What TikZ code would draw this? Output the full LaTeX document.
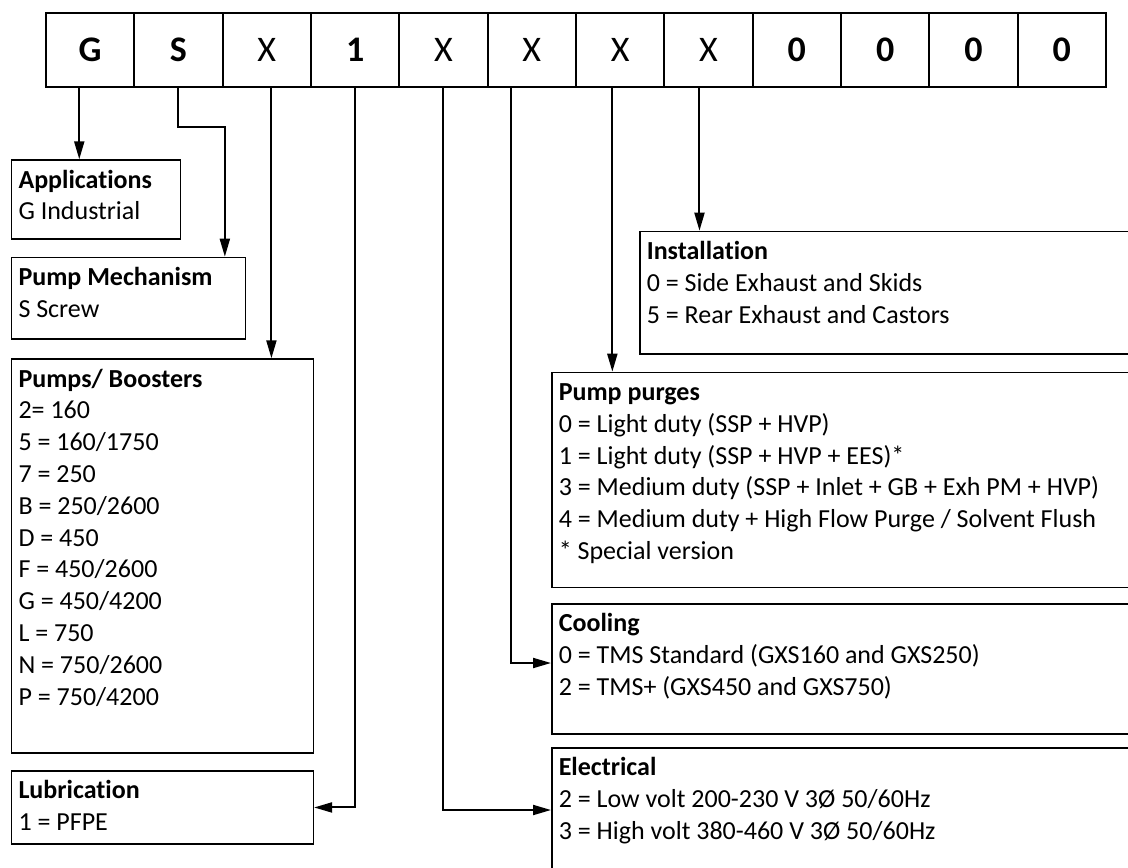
\documentclass[tikz,border=0pt]{standalone}
\usepackage{fontspec}
\setmainfont{Carlito}[Ligatures=NoCommon]
\usepackage{tikz}
\usetikzlibrary{positioning,arrows.meta}

\begin{document}
\begin{tikzpicture}[x=0.5pt,y=-0.5pt,
  cell/.style={draw,line width=1pt,minimum width=44.17pt,minimum height=37pt,inner sep=0pt,
    text height=11.6pt,text depth=0pt,font=\fontsize{18}{20}\selectfont},
  entry/.style={draw,line width=0.8pt,anchor=north west,align=left,inner xsep=3.5pt,inner ysep=0pt,
    text height=14pt,font=\fontsize{13}{15.9}\selectfont,
    execute at begin node={\spaceskip=\fontdimen2\font\relax}},
  flow/.style={-{Triangle[length=9pt,width=5pt]},line width=1pt},
]
\useasboundingbox (0,0) rectangle (1128,867);
\clip (0,0) rectangle (1128,867);
\foreach \ch [count=\i] in {\textbf{G},\textbf{S},X,\textbf{1},X,X,X,X,\textbf{0},\textbf{0},\textbf{0},\textbf{0}}
  \node[cell] (c\i) at ({46+88.33*(\i-0.5)},49.7) {\ch};
\node[entry,text width=77.45pt,text depth=25.5pt] (app) at (10.7,159.3) {\textbf{Applications}\\G Industrial};
\node[entry,text width=109.95pt,text depth=26.65pt] (mech) at (10.7,256.7) {\textbf{Pump Mechanism}\\S Screw};
\node[entry,text width=143.9pt,text depth=182.85pt] (pumps) at (10.7,358.3) {\textbf{Pumps/ Boosters}\\2= 160\\5 = 160/1750\\7 = 250\\B = 250/2600\\D = 450\\F = 450/2600\\G = 450/4200\\L = 750\\N = 750/2600\\P = 750/4200};
\node[entry,text width=143.9pt,text depth=22.65pt] (lub) at (10.7,770) {\textbf{Lubrication}\\1 = PFPE};
\node[entry,text width=280pt,text depth=47.15pt] (inst) at (639,230.7) {\textbf{Installation}\\0 = Side Exhaust and Skids\\5 = Rear Exhaust and Castors};
\node[entry,text width=312.5pt,text depth=93.5pt] (purge) at (551,371.7) {\textbf{Pump purges}\\0 = Light duty (SSP + HVP)\\1 = Light duty (SSP + HVP + EES)*\\3 = Medium duty (SSP + Inlet + GB + Exh PM + HVP)\\4 = Medium duty + High Flow Purge / Solvent Flush\\{}* Special version};
\node[entry,text width=312.5pt,text depth=51pt] (cool) at (551,603) {\textbf{Cooling}\\0 = TMS Standard (GXS160 and GXS250)\\2 = TMS+ (GXS450 and GXS750)};
\node[entry,text width=312.5pt,text depth=56pt] (elec) at (551,747) {\textbf{Electrical}\\2 = Low volt 200-230 V 3Ø 50/60Hz\\3 = High volt 380-460 V 3Ø 50/60Hz};
\draw[flow] ([xshift=-5.45pt]c1.south) -- ([xshift=-5.45pt]c1.south |- app.north);
\draw[flow] (c2.south) -- ++(0,39.3) -| ([xshift=48.2pt]mech.north);
\draw[flow] ([xshift=2.3pt]c3.south) -- ([xshift=2.3pt]c3.south |- pumps.north);
\draw[flow] (c4.south) |- (lub.east);
\draw[flow] (c5.south) |- ([yshift=-31.5pt]elec.north west);
\draw[flow] ([xshift=-10.2pt]c6.south) |- ([yshift=-30pt]cool.north west);
\draw[flow] ([xshift=-3.9pt]c7.south) -- ([xshift=-3.9pt]c7.south |- purge.north);
\draw[flow] ([xshift=-4.5pt]c8.south) -- ([xshift=-4.5pt]c8.south |- inst.north);
\end{tikzpicture}
\end{document}
